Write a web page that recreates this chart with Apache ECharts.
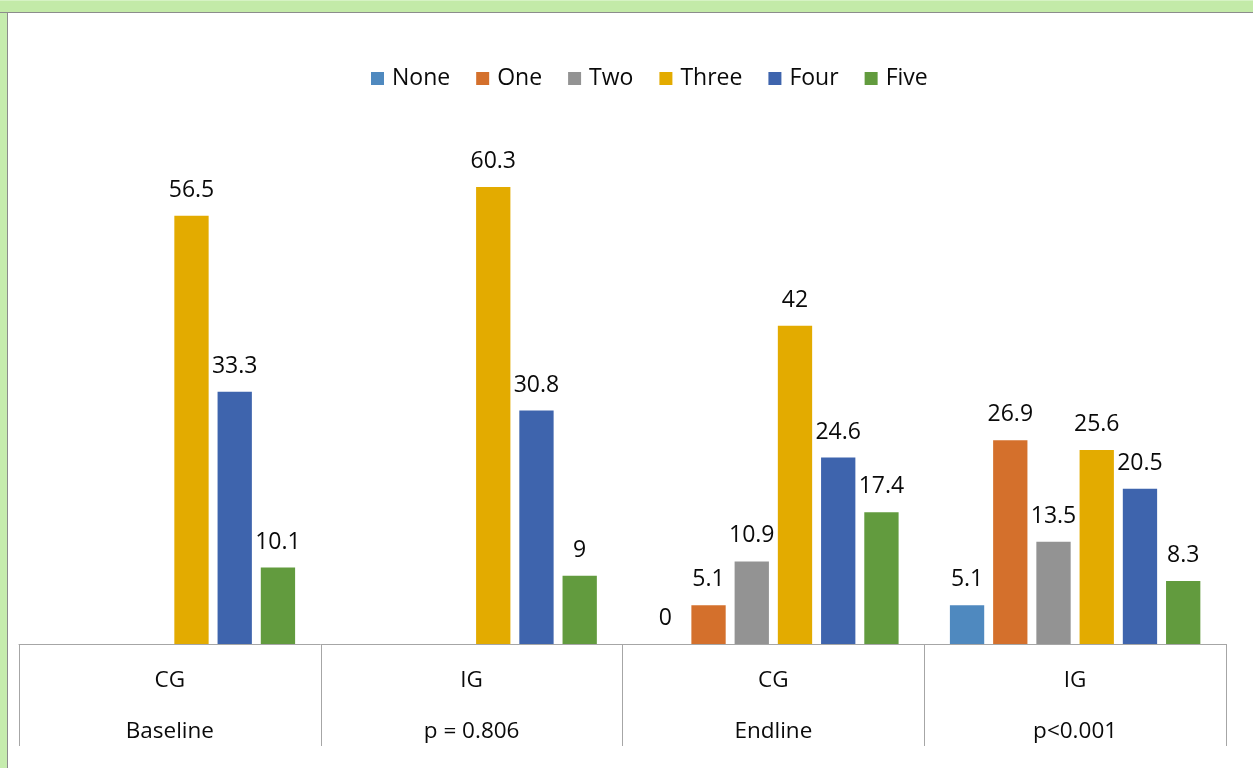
<!DOCTYPE html>
<html>
<head>
<meta charset="utf-8">
<script src="https://cdn.jsdelivr.net/npm/echarts@6/dist/echarts.min.js"></script>
<style>
  html, body { margin: 0; padding: 0; background: #ffffff; }
  #wrap { position: relative; width: 1253px; height: 768px; overflow: hidden; background: #ffffff; }
  #chart { position: absolute; left: 0; top: 0; width: 1253px; height: 768px; }
  /* light green frame along the top and left edges */
  .frame-top {
    position: absolute; left: 0; top: 0; width: 1253px; height: 11px;
    background: #c3eaa8;
    border-top: 1px solid #d6f2c4;
    border-bottom: 1px solid #8c8c8c; pointer-events: none; z-index: 5;
  }
  .frame-left {
    position: absolute; left: 0; top: 0; width: 7px; height: 768px;
    background: #c6ecae; border-right: 1px solid #8c8c8c; pointer-events: none; z-index: 4;
  }
</style>
</head>
<body>
<div id="wrap">
  <div id="chart"></div>
  <div class="frame-left"></div>
  <div class="frame-top"></div>
</div>
<script>
// Groups along the x axis: upper row and lower row of each category label
const groups = ['CG', 'IG', 'CG', 'IG'];
const phases = ['Baseline', 'p = 0.806', 'Endline', 'p<0.001'];

// Percentages per answer count
const seriesNames = ['None', 'One', 'Two', 'Three', 'Four', 'Five'];
const noneVals  = [null, null, 0, 5.1];
const oneVals   = [null, null, 5.1, 26.9];
const twoVals   = [null, null, 10.9, 13.5];
const threeVals = [56.5, 60.3, 42, 25.6];
const fourVals  = [33.3, 30.8, 24.6, 20.5];
const fiveVals  = [10.1, 9, 17.4, 8.3];

const colors = ['#4f89bf', '#d4702c', '#939393', '#e3ab00', '#3e64ad', '#629b3e'];
const allVals = [noneVals, oneVals, twoVals, threeVals, fourVals, fiveVals];

const FONT = '"Open Sans", "Liberation Sans", sans-serif';
const TEXT = '#0a0a0a';
const categories = groups.map((g, i) => g + '|' + phases[i]);

const chart = echarts.init(document.getElementById('chart'), null, { renderer: 'canvas' });

chart.setOption({
  animation: false,
  color: colors,
  textStyle: { fontFamily: FONT },
  legend: {
    top: 62,
    left: 366,
    itemWidth: 13,
    itemHeight: 13,
    itemGap: 26,
    icon: 'rect',
    data: seriesNames,
    textStyle: { fontFamily: FONT, fontSize: 23, color: TEXT, padding: [0, 0, 0, 3] }
  },
  grid: { left: 19, right: 27, top: 113.5, bottom: 124, containLabel: false },
  xAxis: {
    type: 'category',
    data: categories,
    axisLine: { lineStyle: { color: '#a6a6a6', width: 1 } },
    axisTick: { show: true, length: 102, interval: 0, lineStyle: { color: '#a6a6a6', width: 1 } },
    axisLabel: {
      interval: 0,
      margin: 11,
      formatter: function (v) {
        const p = v.split('|');
        return '{a|' + p[0] + '}\n{b|' + p[1] + '}';
      },
      rich: {
        a: { fontFamily: FONT, fontSize: 22.5, color: TEXT, lineHeight: 51 },
        b: { fontFamily: FONT, fontSize: 22.5, color: TEXT, lineHeight: 51 }
      }
    }
  },
  yAxis: {
    type: 'value',
    min: 0,
    max: 70,
    show: false,
    splitLine: { show: false }
  },
  series: seriesNames.map((name, i) => ({
    name: name,
    type: 'bar',
    data: allVals[i],
    barGap: '26%',
    barCategoryGap: '17%',
    itemStyle: { color: colors[i] },
    label: {
      show: true,
      position: 'top',
      distance: 14,
      fontFamily: FONT,
      fontSize: 23,
      color: TEXT
    }
  }))
});
</script>
</body>
</html>
